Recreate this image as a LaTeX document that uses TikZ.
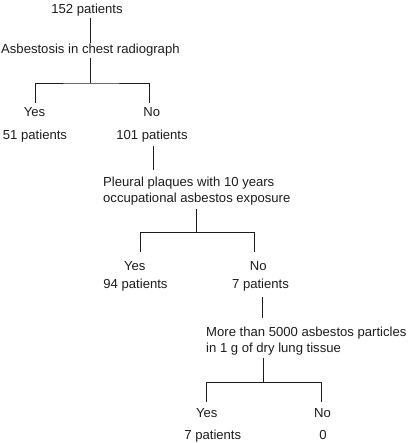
\documentclass[tikz,border=0pt]{standalone}
\usepackage{fontspec}
\setmainfont{Liberation Sans}
\usetikzlibrary{calc}
\definecolor{ink}{RGB}{30,27,28}
\begin{document}
\begin{tikzpicture}[x=1pt,y=-1pt,
  lbl/.style={anchor=base, inner sep=0pt, font=\fontsize{13.1}{16}\selectfont, text=ink},
  qn/.style={anchor=base west, inner sep=0pt, align=left, font=\fontsize{13.1}{16}\selectfont, text=ink},
  conn/.style={draw=ink, line width=0.8pt}]
\useasboundingbox (0,0) rectangle (410,443);
% nodes
\node[lbl] (n152) at (87,14) {152 patients};
\node[qn] (q1) at (1,54) {Asbestosis in chest radiograph};
\node[lbl] (yes1) at (34.5,117) {Yes};
\node[lbl] (no1) at (151.7,117) {No};
\node[lbl] (n51) at (35,139.5) {51 patients};
\node[lbl] (n101) at (152,139.5) {101 patients};
\node[qn] (q2) at (103,203) {Pleural plaques with 10 years\\occupational asbestos exposure};
\node[lbl] (yes2) at (134.7,270) {Yes};
\node[lbl] (no2) at (258.3,270) {No};
\node[lbl] (n94) at (135.5,288.5) {94 patients};
\node[lbl] (n7) at (260.5,288.5) {7 patients};
\node[qn] (q3) at (206,352) {More than 5000 asbestos particles\\in 1 g of dry lung tissue};
\node[lbl] (yes3) at (206.7,417.7) {Yes};
\node[lbl] (no3) at (322.5,417.7) {No};
\node[lbl] (n7b) at (212.8,439.3) {7 patients};
\node[lbl] (zero) at (323,439.3) {0};
% level 1
\coordinate (j1) at (90,83);
\draw[conn] ($(n152.base)+(3,4.3)$) -- ($(q1.base west)+(89,-11)$);
\draw[conn] ($(q1.base west)+(89,4.3)$) -- (j1);
\draw[conn] ($(yes1.base)+(0.5,-14)$) |- (j1) -| ($(no1.base)+(-2.7,-14)$);
% level 2
\coordinate (j2) at (196,232.7);
\draw[conn] ($(n101.base)+(1.5,6.5)$) -- ($(q2.base west)+(50.5,-33)$);
\draw[conn] ($(q2.base west)+(93,6)$) -- (j2);
\draw[conn] ($(yes2.base)+(6,-18.3)$) |- (j2) -| ($(no2.base)+(-4,-18.3)$);
% level 3
\coordinate (j3) at (263,382.7);
\draw[conn] ($(n7.base)+(2.2,8.2)$) -- ($(q3.base west)+(56.7,-34)$);
\draw[conn] ($(q3.base west)+(57,6)$) -- (j3);
\draw[conn] ($(yes3.base)+(0,-16)$) |- (j3) -| ($(no3.base)+(-0.8,-16)$);
\end{tikzpicture}
\end{document}
